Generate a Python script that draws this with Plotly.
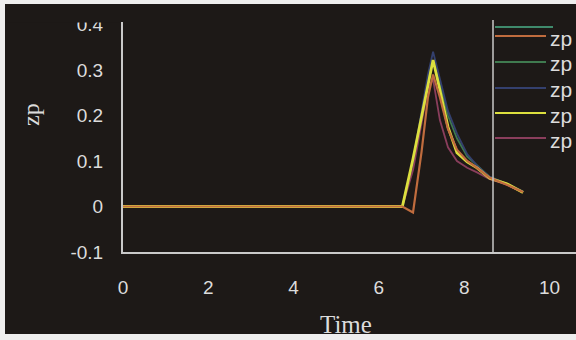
import plotly.graph_objects as go

# ---- data ----
time = [0, 6.55, 6.8, 7.0, 7.15, 7.27, 7.43, 7.62, 7.83, 8.07, 8.3, 8.6, 9.0, 9.38]
zp_green = [0, 0, 0.10, 0.20, 0.28, 0.32, 0.27, 0.20, 0.15, 0.11, 0.09, 0.065, 0.05, 0.033]
zp_blue = [0, 0, 0.10, 0.21, 0.29, 0.34, 0.28, 0.21, 0.16, 0.115, 0.09, 0.065, 0.05, 0.033]
zp_purple = [0, 0, 0.08, 0.18, 0.26, 0.28, 0.19, 0.13, 0.10, 0.085, 0.075, 0.06, 0.048, 0.031]
zp_yellow = [0, 0, 0.105, 0.20, 0.27, 0.322, 0.256, 0.175, 0.118, 0.098, 0.085, 0.062, 0.05, 0.031]
zp_orange = [0, 0, -0.013, 0.12, 0.24, 0.29, 0.24, 0.17, 0.125, 0.10, 0.085, 0.063, 0.048, 0.032]

x_ticks = [0, 2, 4, 6, 8, 10]
y_ticks = [-0.1, 0, 0.1, 0.2, 0.3, 0.4]
legend_names = ["zp", "zp", "zp", "zp", "zp"]

BG = "#1d1917"
AX = "#c9c9c9"
TXT = "#dcdcdc"
C_ORANGE = "#c06c3e"
C_GREEN = "#3f7a4f"
C_BLUE = "#34406e"
C_YELLOW = "#dcdf3e"
C_PURPLE = "#8a3e5c"
C_TEAL = "#3f8a6c"

W, H = 576, 340
L, R, T, B = 123, 0, 22, 88
PW, PH = W - L - R, H - T - B


def px(xp):
    return (xp - L) / PW


def py(yp):
    return (H - B - yp) / PH


fig = go.Figure()
series = [
    (zp_green, C_GREEN, 1.8),
    (zp_blue, C_BLUE, 1.8),
    (zp_purple, C_PURPLE, 1.8),
    (zp_yellow, C_YELLOW, 2.8),
    (zp_orange, C_ORANGE, 2.2),
]
for vals, col, w in series:
    fig.add_trace(go.Scatter(x=time, y=vals, mode="lines",
                             line=dict(color=col, width=w), showlegend=False))

shapes = []
annotations = []

# legend (drawn manually)
shapes.append(dict(type="line", xref="paper", yref="paper",
                   x0=px(493), x1=px(493), y0=py(20), y1=py(252),
                   line=dict(color=AX, width=1.5)))
shapes.append(dict(type="line", xref="paper", yref="paper",
                   x0=px(495), x1=px(553), y0=py(27), y1=py(27),
                   line=dict(color=C_TEAL, width=2)))
leg_cols = [C_ORANGE, C_GREEN, C_BLUE, C_YELLOW, C_PURPLE]
leg_y = [36, 62, 88, 113, 138]
for name, col, yy in zip(legend_names, leg_cols, leg_y):
    shapes.append(dict(type="line", xref="paper", yref="paper",
                       x0=px(495), x1=px(546), y0=py(yy), y1=py(yy),
                       line=dict(color=col, width=2.2)))
    annotations.append(dict(text=name, xref="paper", yref="paper",
                            x=px(548), y=py(yy + 2), xanchor="left", yanchor="middle",
                            showarrow=False,
                            font=dict(family="Liberation Sans, Arial", size=21, color=TXT)))

# axis titles
annotations.append(dict(text="Time", xref="paper", yref="paper",
                        x=px(346), y=py(324), xanchor="center", yanchor="middle",
                        showarrow=False,
                        font=dict(family="Liberation Serif, Times New Roman", size=25, color=TXT)))
annotations.append(dict(text="zp", xref="paper", yref="paper",
                        x=px(31), y=py(115), xanchor="center", yanchor="middle",
                        textangle=-90, showarrow=False,
                        font=dict(family="Liberation Serif, Times New Roman", size=24, color=TXT)))

# cover strip that cuts the top label, and light outer border
shapes.append(dict(type="rect", xref="paper", yref="paper", layer="above",
                   x0=px(6), x1=px(120), y0=py(4), y1=py(22.5),
                   fillcolor=BG, line=dict(width=0)))
border = "#eeeeee"
shapes.append(dict(type="rect", xref="paper", yref="paper", layer="above",
                   x0=px(0), x1=px(5), y0=py(0), y1=py(340),
                   fillcolor=border, line=dict(width=0)))
shapes.append(dict(type="rect", xref="paper", yref="paper", layer="above",
                   x0=px(0), x1=px(576), y0=py(0), y1=py(4),
                   fillcolor=border, line=dict(width=0)))
shapes.append(dict(type="rect", xref="paper", yref="paper", layer="below",
                   x0=px(0), x1=px(576), y0=py(334), y1=py(340),
                   fillcolor=border, line=dict(width=0)))

fig.update_layout(
    width=W, height=H,
    margin=dict(l=L, r=R, t=T, b=B, pad=0),
    paper_bgcolor=BG, plot_bgcolor=BG,
    showlegend=False,
    shapes=shapes, annotations=annotations,
    xaxis=dict(range=[0, PW / 42.65], tickvals=x_ticks, ticktext=[str(v) for v in x_ticks],
               showgrid=False, zeroline=False, showline=True, linecolor=AX, linewidth=2,
               ticks="", ticklabelstandoff=17,
               tickfont=dict(family="Liberation Sans, Arial", size=19, color=TXT)),
    yaxis=dict(range=[-0.1, -0.1 + PH / 455.0], tickvals=y_ticks,
               ticktext=["-0.1", "0", "0.1", "0.2", "0.3", "0.4"],
               showgrid=False, zeroline=False, showline=True, linecolor=AX, linewidth=2,
               ticks="", ticklabelstandoff=14,
               tickfont=dict(family="Liberation Sans, Arial", size=19, color=TXT)),
)

fig.write_html("out.html", config={"displayModeBar": False},
               post_script="document.body.style.margin='0';document.body.style.overflow='hidden';")
